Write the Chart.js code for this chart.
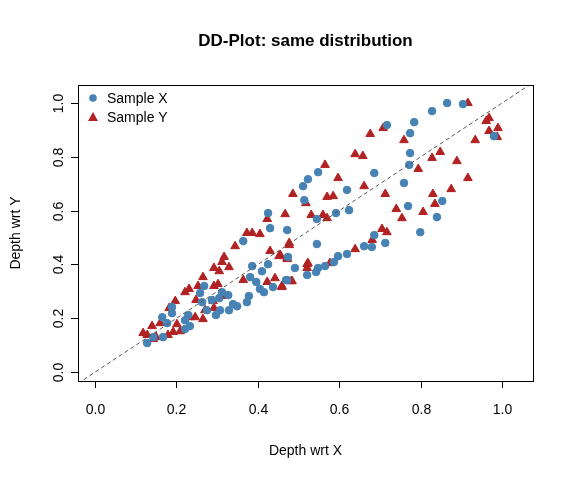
<!DOCTYPE html>
<html><head><meta charset="utf-8">
<script src="https://cdn.jsdelivr.net/npm/chart.js@4"></script>
<style>html,body{margin:0;padding:0;background:#fff}#w{width:576px;height:480px}</style>
</head><body><div id="w"><canvas id="c"></canvas></div>
<script>
const tickVals=[0,0.2,0.4,0.6,0.8,1.0];
const tickLabels=["0.0","0.2","0.4","0.6","0.8","1.0"];
const xBlue=[0.828,0.865,0.904,0.717,0.784,0.774,0.774,0.772,0.759,0.769,0.853,0.98,0.686,0.619,0.624,0.592,0.545,0.548,0.523,0.511,0.514,0.472,0.545,0.686,0.661,0.619,0.597,0.587,0.565,0.548,0.543,0.521,0.491,0.474,0.469,0.799,0.840,0.713,0.68,0.425,0.430,0.364,0.425,0.386,0.410,0.381,0.396,0.415,0.405,0.437,0.472,0.268,0.258,0.312,0.327,0.305,0.263,0.287,0.378,0.373,0.339,0.349,0.329,0.307,0.297,0.275,0.229,0.221,0.189,0.165,0.233,0.221,0.177,0.167,0.143,0.128,0.189];
const yBlue=[0.970,1.0,0.996,0.918,0.929,0.888,0.814,0.770,0.703,0.617,0.636,0.877,0.740,0.677,0.602,0.591,0.569,0.743,0.717,0.691,0.639,0.528,0.476,0.509,0.468,0.439,0.431,0.409,0.394,0.387,0.372,0.361,0.387,0.428,0.342,0.520,0.576,0.480,0.465,0.591,0.535,0.487,0.401,0.394,0.375,0.353,0.335,0.297,0.309,0.316,0.342,0.320,0.294,0.297,0.286,0.275,0.260,0.268,0.283,0.260,0.253,0.245,0.230,0.230,0.212,0.230,0.212,0.193,0.219,0.204,0.171,0.160,0.182,0.130,0.130,0.108,0.242];
const xRed=[0.916,0.961,0.968,0.968,0.990,0.988,0.934,0.889,0.848,0.828,0.794,0.916,0.875,0.830,0.835,0.806,0.740,0.754,0.717,0.705,0.681,0.639,0.577,0.523,0.521,0.484,0.459,0.472,0.477,0.455,0.467,0.708,0.759,0.676,0.639,0.658,0.565,0.597,0.661,0.713,0.486,0.518,0.570,0.585,0.531,0.560,0.570,0.423,0.373,0.386,0.405,0.344,0.477,0.430,0.452,0.472,0.521,0.317,0.312,0.292,0.305,0.329,0.265,0.253,0.231,0.221,0.364,0.423,0.442,0.459,0.482,0.302,0.292,0.312,0.248,0.290,0.292,0.270,0.197,0.182,0.246,0.265,0.233,0.201,0.140,0.160,0.192,0.209,0.179,0.118,0.128,0.150,0.143];
const yRed=[1.0,0.933,0.944,0.896,0.907,0.874,0.862,0.784,0.818,0.796,0.755,0.721,0.680,0.662,0.625,0.595,0.606,0.572,0.520,0.532,0.491,0.457,0.405,0.405,0.387,0.338,0.320,0.424,0.472,0.435,0.587,0.907,0.862,0.885,0.810,0.803,0.770,0.721,0.691,0.662,0.662,0.628,0.651,0.654,0.584,0.584,0.572,0.569,0.517,0.517,0.513,0.468,0.480,0.450,0.431,0.420,0.401,0.428,0.409,0.387,0.375,0.390,0.353,0.320,0.309,0.297,0.342,0.335,0.349,0.316,0.338,0.327,0.320,0.283,0.268,0.264,0.238,0.230,0.264,0.238,0.204,0.197,0.204,0.178,0.171,0.182,0.149,0.152,0.138,0.145,0.138,0.130,0.123];
const BLUE="#4682B4", RED="#B22222";
const pts=(xs,ys)=>xs.map((x,i)=>({x,y:ys[i]}));
const F="'Liberation Sans', Arial, sans-serif";
const deco={id:'deco',afterDraw(ch){
  const c=ch.ctx,a=ch.chartArea,xs=ch.scales.x,ys=ch.scales.y;
  c.save();c.strokeStyle='#000';c.lineWidth=1;c.fillStyle='#000';
  c.strokeRect(a.left+0.5,a.top+0.5,a.right-a.left,a.bottom-a.top);
  c.font="14px "+F;c.textAlign='center';c.textBaseline='middle';
  tickVals.forEach((v,i)=>{
    const px=Math.round(xs.getPixelForValue(v))+0.5;
    c.beginPath();c.moveTo(px,a.bottom);c.lineTo(px,a.bottom+7);c.stroke();
    c.fillText(tickLabels[i],px,a.bottom+29);
    const py=Math.round(ys.getPixelForValue(v))+0.5;
    c.beginPath();c.moveTo(a.left,py);c.lineTo(a.left-7,py);c.stroke();
    c.save();c.translate(a.left-19,py);c.rotate(-Math.PI/2);c.fillText(tickLabels[i],0,0);c.restore();
  });
  c.fillText("Depth wrt X",(a.left+a.right)/2,451);
  c.save();c.translate(16,(a.top+a.bottom)/2);c.rotate(-Math.PI/2);c.fillText("Depth wrt Y",0,0);c.restore();
  c.font="bold 17px "+F;c.fillText("DD-Plot: same distribution",(a.left+a.right)/2,41);
  c.font="14px "+F;c.textAlign='left';
  c.fillStyle=BLUE;c.beginPath();c.arc(93,98,3.8,0,2*Math.PI);c.fill();
  c.fillStyle=RED;c.beginPath();c.moveTo(93,112);c.lineTo(98,121);c.lineTo(88,121);c.closePath();c.fill();
  c.fillStyle='#000';c.fillText("Sample X",107,99);c.fillText("Sample Y",107,118);
  c.restore();
}};
new Chart(document.getElementById('c'),{
  type:'scatter',
  data:{datasets:[
    {type:'line',data:[{x:-0.2,y:-0.2},{x:1.2,y:1.2}],borderColor:'#555',borderWidth:1,borderDash:[4,3],pointRadius:0,fill:false},
    {data:pts(xBlue,yBlue),backgroundColor:BLUE,borderColor:BLUE,pointRadius:3.8,pointHoverRadius:3.8,pointStyle:'circle'},
    {data:pts(xRed,yRed),backgroundColor:RED,borderColor:RED,pointRadius:5,pointHoverRadius:5,pointStyle:'triangle'}
  ]},
  options:{responsive:true,maintainAspectRatio:false,animation:false,
    layout:{padding:{left:78,right:43,top:85,bottom:99}},
    plugins:{legend:{display:false},tooltip:{enabled:false}},
    scales:{
      x:{type:'linear',min:-0.042,max:1.076,display:false},
      y:{type:'linear',min:-0.033,max:1.067,display:false}
    }},
  plugins:[deco]
});
</script></body></html>
